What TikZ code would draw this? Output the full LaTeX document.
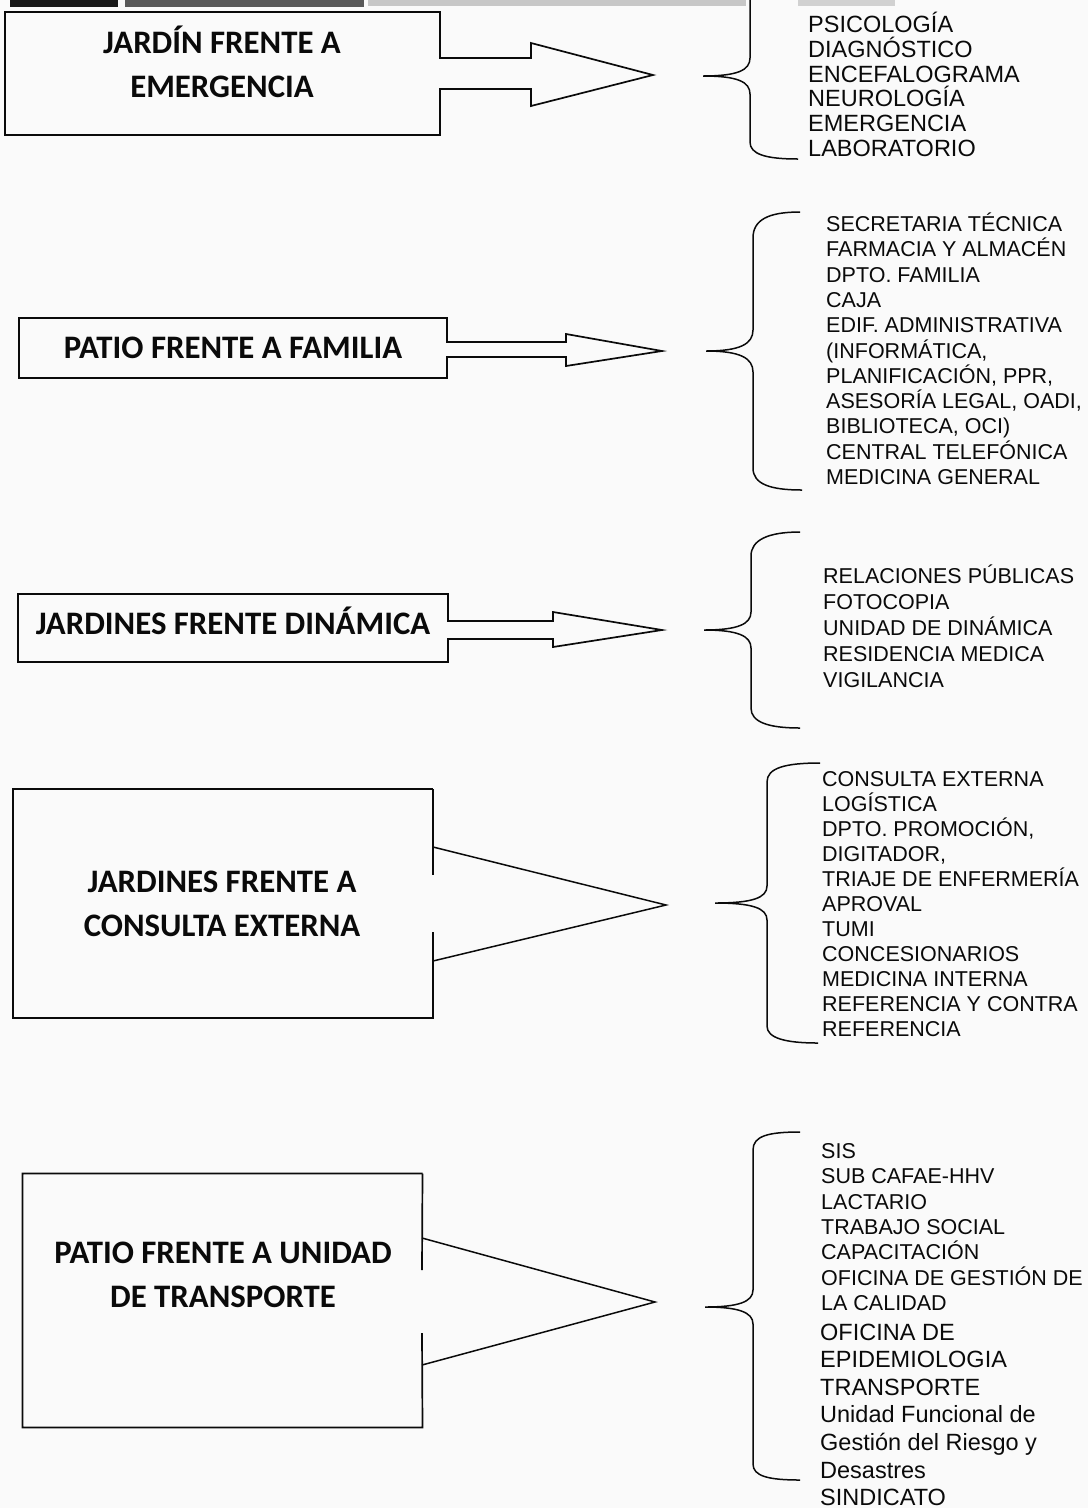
\documentclass[tikz,border=0pt]{standalone}
\usepackage{fontspec}
\setmainfont{Liberation Sans}
\newfontfamily\titlefont{Carlito}
\usetikzlibrary{calc}
\definecolor{paper}{RGB}{250,250,250}
\definecolor{ink}{RGB}{10,10,10}
\begin{document}
\begin{tikzpicture}[x=1pt,y=-1pt,
  outline/.style={draw=ink,line width=1.7pt,line join=miter},
  thin/.style={draw=ink,line width=1.5pt},
  bracestyle/.style={draw=ink,line width=1.5pt},
  boxnode/.style={inner sep=0pt,outer sep=0pt,draw=none},
  title/.style={inner sep=0pt,anchor=base,text=ink,font=\titlefont\bfseries\fontsize{32.8}{38}\selectfont},
  item/.style={inner sep=0pt,anchor=base west,text=ink,font=\fontsize{21.5}{25}\selectfont},
  itemwide/.style={inner sep=0pt,anchor=base west,text=ink,font=\fontsize{23.5}{25}\selectfont},
  itembig/.style={inner sep=0pt,anchor=base west,text=ink,font=\fontsize{23.5}{28}\selectfont}]
\useasboundingbox (0,0) rectangle (1088,1508);
\fill[paper] (0,0) rectangle (1088,1508);
% scan bar at top
\fill[black!90] (10,0) rectangle (118,7);
\fill[black!65] (125,0) rectangle (364,7);
\fill[black!22] (368,0) rectangle (746,6);
\fill[black!18] (798,0) rectangle (895,6);

% ---------- group 1 ----------
\node[boxnode,minimum width=435pt,minimum height=123pt] (b1) at (222.5,73.5) {};
\node[title] (t1a) at (222,53) {JARDÍN FRENTE A};
\node[title] (t1b) at (222,97) {EMERGENCIA};
\coordinate (tip1) at (653,75);
\draw[outline] (b1.north east) -- (440,58) -- (531,58) -- (531,43) -- (tip1) -- (531,106) -- (531,89) -- (440,89) -- (b1.south east) -- (b1.south west) -- (b1.north west) -- cycle;
\coordinate (br1) at (703,76);
\draw[bracestyle] (750,-3) -- (750,58) .. controls (750,70) and (738,76) .. (br1) .. controls (738,76) and (750,82) .. (750,94) -- (750,142) .. controls (750,154) and (765,159) .. (798,159);
\foreach \t [count=\i from 0] in {PSICOLOGÍA,DIAGNÓSTICO,ENCEFALOGRAMA,NEUROLOGÍA,EMERGENCIA,LABORATORIO}
  \node[itemwide] (l1-\i) at (808,32.5+24.8*\i) {\t};

% ---------- group 2 ----------
\node[boxnode,minimum width=428pt,minimum height=60pt] (b2) at (233,348) {};
\node[title] (t2a) at (233,358) {PATIO FRENTE A FAMILIA};
\coordinate (tip2) at (662,351);
\draw[outline] (b2.north east) -- (447,342) -- (566,342) -- (566,334) -- (tip2) -- (566,366) -- (566,357) -- (447,357) -- (b2.south east) -- (b2.south west) -- (b2.north west) -- cycle;
\coordinate (br2) at (706,351);
\draw[bracestyle] (800,212) .. controls (768,212) and (753,220) .. (753,238) -- (753,330) .. controls (753,344) and (740,351) .. (br2) .. controls (740,351) and (753,358) .. (753,372) -- (753,468) .. controls (753,484) and (770,490) .. (802,490);
\foreach \t [count=\i from 0] in {SECRETARIA TÉCNICA,FARMACIA Y ALMACÉN,DPTO. FAMILIA,CAJA,EDIF. ADMINISTRATIVA,{(INFORMÁTICA,},{PLANIFICACIÓN, PPR,},{ASESORÍA LEGAL, OADI,},{BIBLIOTECA, OCI)},CENTRAL TELEFÓNICA,MEDICINA GENERAL}
  \node[item] (l2-\i) at (826,231.5+25.3*\i) {\t};

% ---------- group 3 ----------
\node[boxnode,minimum width=430pt,minimum height=68pt] (b3) at (233,628) {};
\node[title] (t3a) at (233,634) {JARDINES FRENTE DINÁMICA};
\coordinate (tip3) at (662,630);
\draw[outline] (b3.north east) -- (448,621) -- (553,621) -- (553,612) -- (tip3) -- (553,647) -- (553,639) -- (448,639) -- (b3.south east) -- (b3.south west) -- (b3.north west) -- cycle;
\coordinate (br3) at (704,630);
\draw[bracestyle] (800,532) .. controls (768,532) and (751,540) .. (751,556) -- (751,612) .. controls (751,624) and (738,630) .. (br3) .. controls (738,630) and (751,636) .. (751,648) -- (751,708) .. controls (751,722) and (768,728) .. (800,728);
\foreach \t [count=\i from 0] in {RELACIONES PÚBLICAS,FOTOCOPIA,UNIDAD DE DINÁMICA,RESIDENCIA MEDICA,VIGILANCIA}
  \node[item] (l3-\i) at (823,583+26*\i) {\t};

% ---------- group 4 ----------
\node[boxnode,minimum width=420pt,minimum height=229pt] (b4) at (223,903.5) {};
\node[title] (t4a) at (222,892) {JARDINES FRENTE A};
\node[title] (t4b) at (222,936) {CONSULTA EXTERNA};
\coordinate (tip4) at (666,905);
\draw[outline] (b4.north east) -- (433,875);
\draw[outline] (433,932) -- (b4.south east) -- (b4.south west) -- (b4.north west) -- (b4.north east);
\draw[thin] (433,847) -- (tip4) -- (433,961);
\coordinate (br4) at (715,903);
\draw[bracestyle] (820,763) .. controls (785,763) and (767,768) .. (767,782) -- (767,886) .. controls (767,898) and (752,903) .. (br4) .. controls (752,903) and (767,908) .. (767,920) -- (767,1026) .. controls (767,1038) and (785,1043) .. (818,1043);
\foreach \t [count=\i from 0] in {CONSULTA EXTERNA,LOGÍSTICA,{DPTO. PROMOCIÓN,},{DIGITADOR,},TRIAJE DE ENFERMERÍA,APROVAL,TUMI,CONCESIONARIOS,MEDICINA INTERNA,REFERENCIA Y CONTRA,REFERENCIA}
  \node[item] (l4-\i) at (822,786+25*\i) {\t};

% ---------- group 5 ----------
\node[boxnode,minimum width=400pt,minimum height=254pt] (b5) at (222.5,1300.5) {};
\node[title] (t5a) at (223,1263) {PATIO FRENTE A UNIDAD};
\node[title] (t5b) at (223,1307) {DE TRANSPORTE};
\coordinate (tip5) at (655,1302);
\draw[outline] (b5.north east) -- (422,1270);
\draw[outline] (422,1333) -- (b5.south east) -- (b5.south west) -- (b5.north west) -- (b5.north east);
\draw[thin] (422,1238) -- (tip5) -- (422,1365);
\coordinate (br5) at (705,1307);
\draw[bracestyle] (800,1132) .. controls (768,1132) and (753,1136) .. (753,1150) -- (753,1290) .. controls (753,1302) and (738,1307) .. (br5) .. controls (738,1307) and (753,1312) .. (753,1324) -- (753,1464) .. controls (753,1476) and (768,1480) .. (800,1480);
\foreach \t [count=\i from 0] in {SIS,SUB CAFAE-HHV,LACTARIO,TRABAJO SOCIAL,CAPACITACIÓN,OFICINA DE GESTIÓN DE,LA CALIDAD}
  \node[item] (l5-\i) at (821,1158.5+25.3*\i) {\t};
\foreach \t [count=\i from 0] in {OFICINA DE,EPIDEMIOLOGIA,TRANSPORTE,Unidad Funcional de,Gestión del Riesgo y,Desastres,SINDICATO}
  \node[itembig] (m5-\i) at (820,1340+27.6*\i) {\t};
\end{tikzpicture}
\end{document}
